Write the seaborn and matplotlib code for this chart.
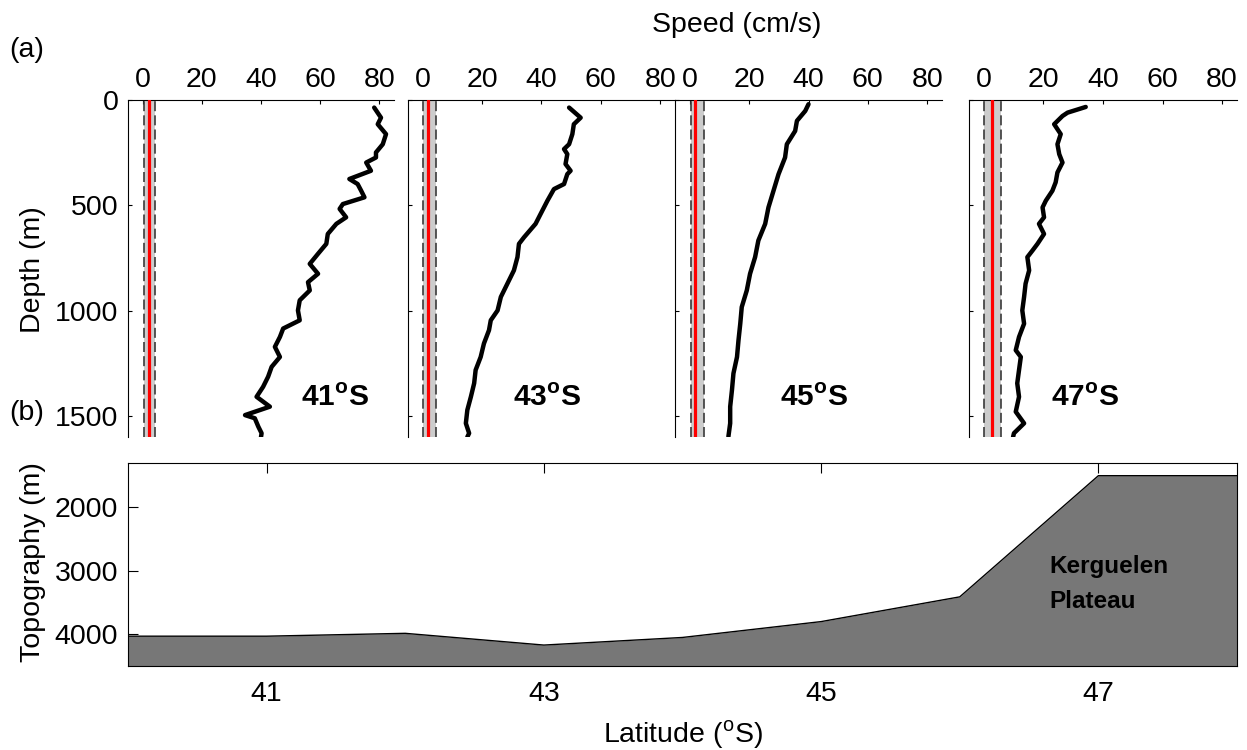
import matplotlib
matplotlib.use("Agg")
import matplotlib.pyplot as plt
import pandas as pd
import seaborn as sns

# speed profiles (depth in m, speed in cm/s)
stations = ["41", "43", "45", "47"]

depth_41 = [36, 84, 115, 162, 210, 249, 273, 297, 336, 375, 399, 431, 462, 494, 517,
            557, 588, 636, 683, 730, 778, 825, 865, 904, 951, 999, 1046, 1085, 1125,
            1172, 1220, 1267, 1314, 1362, 1409, 1456, 1496, 1511, 1551, 1582, 1600]
speed_41 = [78.3, 80.6, 79.5, 82.3, 81.2, 78.9, 78.9, 75.6, 77.2, 69.9, 72.7, 73.9, 75.0,
            67.7, 66.6, 68.8, 65.5, 62.6, 62.1, 59.3, 56.5, 59.3, 55.9, 56.5, 53.1, 52.5,
            53.1, 47.5, 46.4, 44.7, 46.4, 43.6, 42.4, 40.7, 38.5, 43.0, 34.6, 37.9, 39.1,
            40.2, 40.0]

depth_43 = [36, 84, 115, 162, 210, 233, 257, 304, 336, 352, 399, 423, 478, 541, 588, 652,
            683, 746, 809, 872, 935, 999, 1046, 1093, 1156, 1220, 1282, 1345, 1409, 1472,
            1535, 1582, 1600]
speed_43 = [49.3, 53.2, 50.9, 50.4, 49.3, 47.6, 48.7, 48.1, 49.8, 48.7, 47.6, 44.2, 42.0,
            39.7, 38.0, 34.1, 32.4, 31.9, 30.7, 28.5, 26.3, 25.2, 22.9, 22.3, 20.6, 19.5,
            17.8, 17.3, 16.2, 15.0, 14.5, 15.6, 15.0]

depth_45 = [20, 52, 99, 147, 210, 273, 352, 431, 510, 588, 667, 746, 825, 904, 983, 1062,
            1141, 1220, 1298, 1377, 1456, 1535, 1598]
speed_45 = [40.0, 38.9, 36.1, 35.5, 32.7, 32.1, 29.9, 28.2, 26.5, 25.4, 23.1, 22.0, 20.3,
            19.2, 17.5, 17.0, 16.4, 15.9, 14.7, 14.2, 13.6, 13.6, 13.0]

depth_47 = [33, 60, 76, 115, 162, 210, 257, 297, 344, 391, 431, 478, 510, 557, 588, 636,
            683, 715, 746, 809, 872, 935, 999, 1062, 1125, 1188, 1220, 1282, 1345, 1409,
            1480, 1535, 1582, 1600]
speed_47 = [34.2, 28.1, 26.4, 23.6, 25.8, 24.7, 25.3, 26.4, 24.7, 24.1, 23.0, 20.8, 19.7,
            20.2, 18.5, 20.2, 18.0, 16.3, 14.6, 15.2, 14.0, 13.5, 12.9, 13.5, 11.8, 10.7,
            12.4, 11.8, 11.2, 11.8, 10.7, 13.5, 10.1, 9.8]

# noise level (mean) and its range, per station
noise_mean = [2.0, 1.9, 1.8, 2.6]
noise_lo = [0.35, 0.2, 0.5, 0.2]
noise_hi = [4.0, 4.4, 4.9, 5.8]

# bottom topography along the section
lat = [40, 41, 42, 43, 44, 45, 46, 47, 48]
topo = [4030, 4030, 3985, 4170, 4050, 3800, 3410, 1500, 1500]

profiles = [(depth_41, speed_41), (depth_43, speed_43),
            (depth_45, speed_45), (depth_47, speed_47)]

sns.set_theme(style="ticks")
plt.rcParams["font.family"] = ["Liberation Sans", "DejaVu Sans"]
plt.rcParams["mathtext.fontset"] = "custom"
plt.rcParams["mathtext.rm"] = "Liberation Sans"
plt.rcParams["mathtext.bf"] = "Liberation Sans:bold"
for key in ("text.color", "axes.labelcolor", "xtick.color", "ytick.color",
            "xtick.labelcolor", "ytick.labelcolor", "axes.edgecolor"):
    plt.rcParams[key] = "black"

W, H = 1247, 750
fig = plt.figure(figsize=(W / 100, H / 100), dpi=100)

lefts = [128, 408, 675, 969]
widths = [266, 267, 267, 268]
label_x = [65, 42, 42, 34]
FS = 20.5

for i, st in enumerate(stations):
    ax = fig.add_axes([lefts[i] / W, 1 - 437 / H, widths[i] / W, 337 / H])
    ax.fill_betweenx([0, 1600], noise_lo[i], noise_hi[i], color="#cccccc", lw=0, zorder=1)
    for v in (noise_lo[i], noise_hi[i]):
        ax.axvline(v, color="#3a3a3a", lw=1.2, ls=(0, (6, 2.5)), zorder=2)
    ax.axvline(noise_mean[i], color="red", lw=2.3, zorder=3)

    df = pd.DataFrame({"depth": profiles[i][0], "speed": profiles[i][1]})
    sns.lineplot(data=df, x="speed", y="depth", sort=False, estimator=None,
                 orient="y", color="black", lw=3.2, ax=ax, zorder=4)

    ax.set_xlim(-5, 85)
    ax.set_ylim(1600, 0)
    ax.set_xticks([0, 20, 40, 60, 80])
    ax.set_yticks([0, 500, 1000, 1500])
    ax.set_xlabel("")
    ax.set_ylabel("")
    ax.xaxis.tick_top()
    ax.tick_params(direction="in", length=3, width=0.8, labelsize=FS, pad=5,
                   colors="black")
    ax.tick_params(axis="y", pad=7, labelleft=(i == 0))
    for side in ("right", "bottom"):
        ax.spines[side].set_visible(False)
    for side in ("left", "top"):
        ax.spines[side].set_linewidth(0.8)
        ax.spines[side].set_color("black")

    ax.text(label_x[i], 1415, st + r"$^{\mathbf{o}}$S", fontsize=21.5,
            fontweight="bold", ha="center", va="center", zorder=5)

# bottom panel: topography
axb = fig.add_axes([128 / W, 1 - 666 / H, 1109 / W, 203 / H])
axb.fill_between(lat, topo, 4500, color="#777777", lw=0, zorder=1)
sns.lineplot(x=lat, y=topo, color="black", lw=1, ax=axb, zorder=2)
axb.set_xlim(40, 48)
axb.set_ylim(4500, 1300)
axb.set_xticks([41, 43, 45, 47])
axb.set_yticks([2000, 3000, 4000])
axb.tick_params(axis="x", direction="in", top=True, bottom=False, labelbottom=True,
                length=7.5, width=0.8, labelsize=FS, pad=11)
axb.tick_params(axis="y", direction="in", left=True, right=False, length=7.5,
                width=0.8, labelsize=FS, pad=7)
for side in axb.spines.values():
    side.set_linewidth(0.8)
    side.set_color("black")
axb.text(46.65, 3210, "Kerguelen\nPlateau", fontsize=17.5, fontweight="bold",
         ha="left", va="center", linespacing=1.7)

fig.text(737 / W, 1 - 25 / H, "Speed (cm/s)", ha="center", va="center", fontsize=FS)
fig.text(33 / W, 1 - 270 / H, "Depth (m)", ha="center", va="center",
         rotation=90, fontsize=FS)
fig.text(33 / W, 1 - 562 / H, "Topography (m)", ha="center", va="center",
         rotation=90, fontsize=FS)
fig.text(683 / W, 1 - 735 / H, r"Latitude ($^{\mathrm{o}}$S)", ha="center",
         va="center", fontsize=FS)
fig.text(27 / W, 1 - 50 / H, "(a)", ha="center", va="center", fontsize=FS)
fig.text(27 / W, 1 - 413 / H, "(b)", ha="center", va="center", fontsize=FS)

fig.savefig("out.png", dpi=100)
